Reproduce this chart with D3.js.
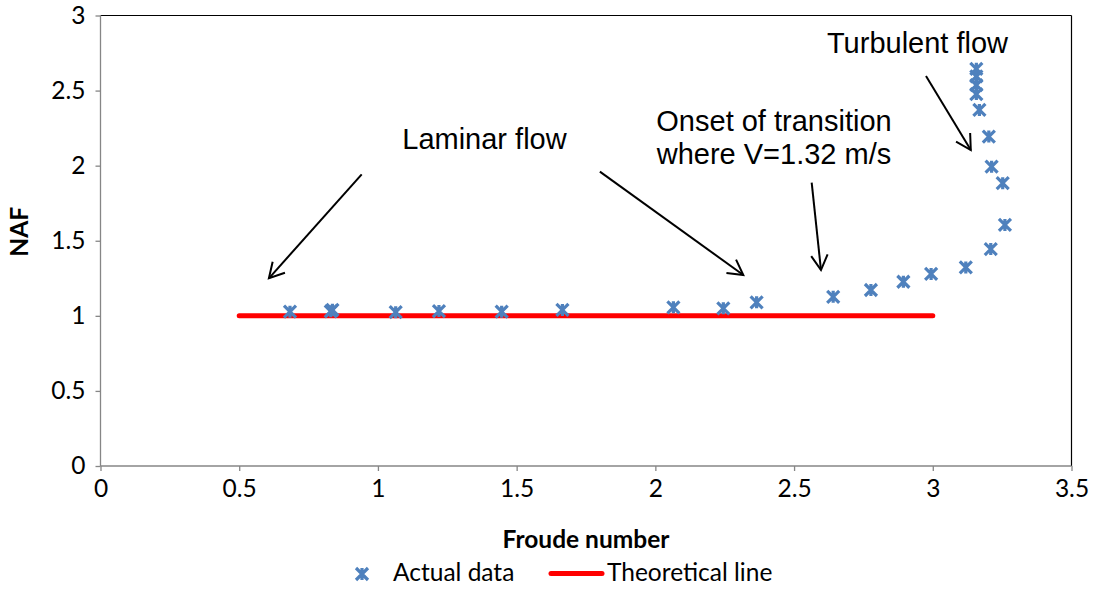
<!DOCTYPE html>
<html>
<head>
<meta charset="utf-8">
<script src="https://cdn.jsdelivr.net/npm/d3@7/dist/d3.min.js"></script>
<style>
  html, body { margin: 0; padding: 0; background: #fff; }
  svg { display: block; }
</style>
</head>
<body>
<svg id="chart" width="1098" height="589"></svg>
<script>
// ---- Data ----
const froude = [0.683, 0.830, 0.836, 1.064, 1.220, 1.446, 1.665, 2.065, 2.245, 2.365, 2.641, 2.777, 2.894, 2.994, 3.119, 3.209, 3.260, 3.252, 3.212, 3.202, 3.168, 3.157, 3.157, 3.157, 3.157];
const naf    = [1.028, 1.030, 1.040, 1.024, 1.032, 1.028, 1.039, 1.057, 1.050, 1.090, 1.127, 1.172, 1.227, 1.279, 1.322, 1.445, 1.605, 1.883, 1.993, 2.194, 2.371, 2.477, 2.537, 2.595, 2.645];
const theoryX = [0.5, 3.0];
const theoryY = [1, 1];
const xTicks = [0, 0.5, 1, 1.5, 2, 2.5, 3, 3.5];
const yTicks = [0, 0.5, 1, 1.5, 2, 2.5, 3];
const xTitle = "Froude number";
const yTitle = "NAF";
const seriesNames = ["Actual data", "Theoretical line"];
// annotation arrows: [x1, y1, x2(tip), y2(tip)] in data units
const arrows = [
  [0.9415, 1.942, 0.607, 1.250],
  [1.800, 1.960, 2.317, 1.272],
  [2.5635, 1.887, 2.597, 1.305],
  [2.9755, 2.597, 3.137, 2.104]
];
// annotation labels: text lines, center x, baseline y (data units)
const labels = [
  {lines: ["Laminar flow"], x: 1.384, y: 2.109},
  {lines: ["Onset of transition", "where V=1.32 m/s"], x: 2.4276, y: 2.233},
  {lines: ["Turbulent flow"], x: 2.945, y: 2.747}
];

(function () {
// ---- Layout ----
const svg = d3.select("#chart");
const pLeft = 100.5, pRight = 1071.5, pTop = 15.5, pBottom = 466;
const x = d3.scaleLinear().domain([0, 3.5]).range([pLeft, pRight]);
const y = d3.scaleLinear().domain([0, 3]).range([pBottom, pTop]);
const tickFont = "Lato, 'Noto Sans', sans-serif";
const annFont = "'Liberation Sans', Arial, sans-serif";
const fs = "24.5px";
const axisGray = "#868686";
const blue = "#4F81BD";

// plot area border (top/right black)
svg.append("line").attr("x1", pLeft).attr("x2", pRight).attr("y1", pTop).attr("y2", pTop)
  .attr("stroke", "#000").attr("stroke-width", 1.2);
svg.append("line").attr("x1", pRight).attr("x2", pRight).attr("y1", pTop).attr("y2", pBottom)
  .attr("stroke", "#000").attr("stroke-width", 1.2);

// axes
const xAxis = d3.axisBottom(x).tickValues(xTicks).tickSize(5).tickPadding(9)
  .tickFormat(d => String(d));
const yAxis = d3.axisLeft(y).tickValues(yTicks).tickSize(5).tickPadding(10)
  .tickFormat(d => String(d));

const gx = svg.append("g").attr("transform", `translate(0,${pBottom})`).call(xAxis);
const gy = svg.append("g").attr("transform", `translate(${pLeft},0)`).call(yAxis);
[gx, gy].forEach(g => {
  g.select(".domain").attr("stroke", axisGray).attr("stroke-width", 1.3);
  g.selectAll(".tick line").attr("stroke", axisGray).attr("stroke-width", 1.3);
  g.selectAll(".tick text").attr("fill", "#000").style("font-family", tickFont).style("font-size", fs);
});
gx.select(".domain").attr("d", `M${pLeft},0H${pRight}`);
gy.select(".domain").attr("d", `M0,${pBottom}V${pTop}`);

// axis titles
svg.append("text").attr("x", (pLeft + pRight) / 2).attr("y", 548)
  .attr("text-anchor", "middle").style("font-family", tickFont).style("font-weight", "bold")
  .style("font-size", fs).text(xTitle);
svg.append("text").attr("transform", `translate(28,${(pTop + pBottom) / 2 - 9}) rotate(-90)`)
  .attr("text-anchor", "middle").style("font-family", tickFont).style("font-weight", "bold")
  .style("font-size", fs).text(yTitle);

// theoretical line
const line = d3.line().x(d => x(d[0])).y(d => y(d[1]));
svg.append("path").datum(d3.zip(theoryX, theoryY)).attr("d", line)
  .attr("fill", "none").attr("stroke", "#FF0000").attr("stroke-width", 5).attr("stroke-linecap", "round");

// star markers (x + vertical)
function starPath(s, v) {
  return `M${-s},${-s}L${s},${s}M${s},${-s}L${-s},${s}M0,${-v}L0,${v}`;
}
svg.append("g").selectAll("path").data(d3.zip(froude, naf)).join("path")
  .attr("transform", d => `translate(${x(d[0])},${y(d[1])})`)
  .attr("d", starPath(6, 6))
  .attr("fill", "none").attr("stroke", blue).attr("stroke-width", 3.2);

// annotations
const ag = svg.append("g").attr("stroke", "#000").attr("stroke-width", 2).attr("fill", "none");
arrows.forEach(a => {
  const x1 = x(a[0]), y1 = y(a[1]), x2 = x(a[2]), y2 = y(a[3]);
  ag.append("line").attr("x1", x1).attr("y1", y1).attr("x2", x2).attr("y2", y2);
  const ang = Math.atan2(y1 - y2, x1 - x2);
  const L = 17, spread = 29 * Math.PI / 180;
  const p1 = [x2 + L * Math.cos(ang + spread), y2 + L * Math.sin(ang + spread)];
  const p2 = [x2 + L * Math.cos(ang - spread), y2 + L * Math.sin(ang - spread)];
  ag.append("path").attr("d", `M${p1[0]},${p1[1]}L${x2},${y2}L${p2[0]},${p2[1]}`)
    .attr("stroke-linejoin", "miter");
});
labels.forEach(l => {
  const t = svg.append("text").attr("text-anchor", "middle")
    .style("font-family", annFont).style("font-size", "29px").attr("fill", "#000");
  l.lines.forEach((s, i) => {
    t.append("tspan").attr("x", x(l.x)).attr("y", y(l.y) + i * 33.3).text(s);
  });
});

// legend
const lg = svg.append("g");
lg.append("path").attr("transform", "translate(362,574)").attr("d", starPath(6, 6))
  .attr("fill", "none").attr("stroke", blue).attr("stroke-width", 3.2);
lg.append("text").attr("x", 393).attr("y", 581).style("font-family", tickFont)
  .style("font-size", fs).text(seriesNames[0]);
lg.append("line").attr("x1", 551).attr("x2", 602).attr("y1", 573.5).attr("y2", 573.5)
  .attr("stroke", "#FF0000").attr("stroke-width", 5).attr("stroke-linecap", "round");
lg.append("text").attr("x", 607).attr("y", 581).style("font-family", tickFont)
  .style("font-size", fs).text(seriesNames[1]);
})();
</script>
</body>
</html>
